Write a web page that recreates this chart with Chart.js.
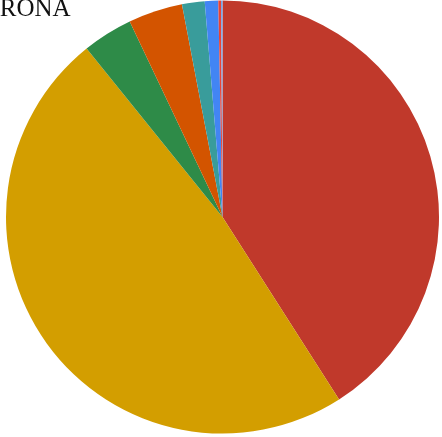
<html>
<head>
    <title>Corona</title>
    <style>
        body {
            margin: 0;
            background: #ffffff;
            overflow: hidden;
        }
        .wrap {
            position: relative;
            width: 442px;
            height: 437px;
            overflow: hidden;
        }
        .judul {
            position: absolute;
            left: -35px;
            top: -5px;
            margin: 0;
            font-family: "Liberation Serif", "DejaVu Serif", serif;
            font-size: 25px;
            line-height: 25px;
            font-weight: normal;
            color: #111111;
            white-space: nowrap;
            z-index: 2;
        }
        canvas {
            position: absolute;
            left: 0;
            top: 0;
        }
    </style>
    <script src="https://cdn.jsdelivr.net/npm/chart.js"></script>
</head>
<body>
    <div class="wrap">
        <h2 class="judul">CORONA</h2>
        <canvas id="pieChart" width="442" height="437"></canvas>
    </div>
    <script>
        // data per kategori (persen)
        var kategori = ['Kategori 1', 'Kategori 2', 'Kategori 3', 'Kategori 4', 'Kategori 5', 'Kategori 6', 'Kategori 7', 'Kategori 8'];
        var nilai = [40.95, 48.25, 3.75, 4.05, 1.69, 1.0, 0.2, 0.11];
        var warna = ['#c0392b', '#d39e00', '#2e8b48', '#d35400', '#399c9b', '#4285f4', '#ea4335', '#70a5ec'];

        var ctx = document.getElementById('pieChart').getContext('2d');
        var pieChart = new Chart(ctx, {
            type: 'pie',
            data: {
                labels: kategori,
                datasets: [
                    {
                        data: nilai,
                        backgroundColor: warna,
                        borderWidth: 0
                    }
                ]
            },
            options: {
                responsive: false,
                animation: false,
                layout: {
                    padding: { top: 0, bottom: 3, left: 6, right: 3 }
                },
                plugins: {
                    legend: { display: false },
                    tooltip: { enabled: false }
                }
            }
        });
    </script>
</body>
</html>
